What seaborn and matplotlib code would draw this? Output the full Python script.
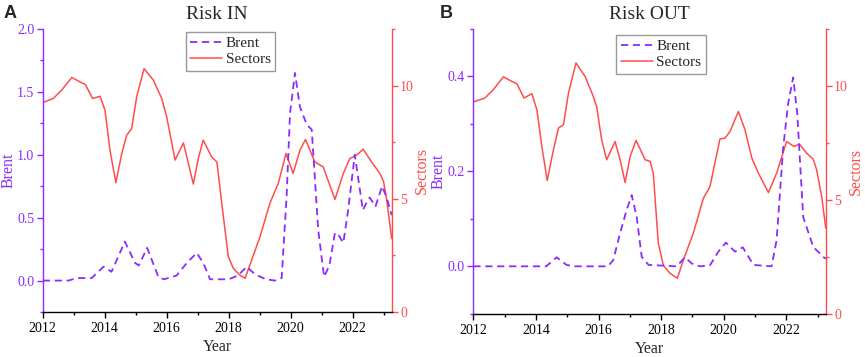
import matplotlib
matplotlib.use('Agg')
import pandas as pd
import matplotlib.pyplot as plt
import seaborn as sns
from matplotlib.ticker import MultipleLocator, FormatStrFormatter

# ---- data ----
# Panel A: Risk IN
a_brent_t = [2012.0, 2012.83, 2013.1, 2013.58, 2013.96, 2014.22, 2014.4, 2014.65, 2014.98, 2015.1,
             2015.37, 2015.73, 2015.91, 2016.32, 2016.65, 2016.97, 2017.18, 2017.4, 2018.0, 2018.3,
             2018.58, 2018.85, 2019.2, 2019.5, 2019.71, 2019.87, 2019.98, 2020.14, 2020.3, 2020.52,
             2020.68, 2020.89, 2021.08, 2021.25, 2021.43, 2021.55, 2021.7, 2021.85, 2022.07, 2022.2,
             2022.33, 2022.45, 2022.55, 2022.74, 2022.95, 2023.1, 2023.26]
a_brent_v = [0.0, 0.0, 0.02, 0.02, 0.11, 0.07, 0.17, 0.31, 0.14, 0.12,
             0.26, 0.03, 0.01, 0.04, 0.14, 0.22, 0.14, 0.01, 0.01, 0.04,
             0.11, 0.05, 0.01, 0.0, 0.02, 0.67, 1.33, 1.65, 1.38, 1.24,
             1.2, 0.4, 0.03, 0.12, 0.38, 0.36, 0.30, 0.55, 1.0, 0.78,
             0.56, 0.62, 0.66, 0.59, 0.75, 0.66, 0.52]
a_sec_t = [2012.0, 2012.34, 2012.61, 2012.94, 2013.26, 2013.37, 2013.61, 2013.85, 2014.01, 2014.17,
           2014.36, 2014.55, 2014.71, 2014.87, 2015.03, 2015.27, 2015.57, 2015.84, 2016.0, 2016.27,
           2016.54, 2016.7, 2016.86, 2017.02, 2017.18, 2017.45, 2017.62, 2017.83, 2017.99, 2018.15,
           2018.36, 2018.53, 2018.74, 2019.01, 2019.33, 2019.6, 2019.85, 2020.08, 2020.3, 2020.48,
           2020.78, 2021.05, 2021.43, 2021.7, 2021.91, 2022.13, 2022.34, 2022.61, 2022.88, 2023.0,
           2023.1, 2023.26]
a_sec_v = [9.25, 9.43, 9.8, 10.36, 10.12, 10.06, 9.43, 9.53, 8.91, 7.15,
           5.71, 7.0, 7.81, 8.1, 9.5, 10.75, 10.24, 9.43, 8.62, 6.71,
           7.47, 6.56, 5.65, 6.78, 7.59, 6.85, 6.63, 4.2, 2.44, 1.93,
           1.63, 1.49, 2.29, 3.32, 4.8, 5.68, 7.0, 6.12, 7.15, 7.62,
           6.63, 6.41, 4.97, 6.12, 6.78, 6.93, 7.19, 6.63, 6.12, 5.75,
           4.95, 3.25]

# Panel B: Risk OUT
b_brent_t = [2012.0, 2014.33, 2014.66, 2014.98, 2015.2, 2016.3, 2016.47, 2016.69, 2016.9, 2017.06,
             2017.22, 2017.38, 2017.6, 2018.5, 2018.76, 2018.98, 2019.24, 2019.56, 2019.83, 2020.07,
             2020.36, 2020.61, 2020.95, 2021.53, 2021.69, 2021.9, 2022.06, 2022.22, 2022.35, 2022.54,
             2022.86, 2023.18, 2023.26]
b_brent_v = [0.0, 0.0, 0.019, 0.003, 0.0, 0.0, 0.013, 0.07, 0.119, 0.15,
             0.104, 0.02, 0.003, 0.0, 0.019, 0.006, 0.0, 0.002, 0.031, 0.05,
             0.031, 0.04, 0.003, 0.0, 0.055, 0.25, 0.343, 0.398, 0.322, 0.104,
             0.041, 0.02, 0.016]
b_sec_t = [2012.0, 2012.37, 2012.64, 2012.96, 2013.23, 2013.39, 2013.62, 2013.87, 2014.03, 2014.19,
           2014.36, 2014.56, 2014.72, 2014.88, 2015.04, 2015.28, 2015.57, 2015.81, 2015.94, 2016.1,
           2016.26, 2016.53, 2016.69, 2016.85, 2017.01, 2017.2, 2017.49, 2017.65, 2017.75, 2017.91,
           2018.07, 2018.28, 2018.52, 2018.71, 2019.03, 2019.35, 2019.56, 2019.88, 2020.04, 2020.2,
           2020.47, 2020.68, 2020.9, 2021.11, 2021.43, 2021.69, 2022.01, 2022.25, 2022.42, 2022.65,
           2022.86, 2022.97, 2023.13, 2023.26]
b_sec_v = [9.3, 9.47, 9.84, 10.4, 10.2, 10.1, 9.47, 9.66, 8.96, 7.34,
           5.85, 7.2, 8.15, 8.3, 9.69, 11.01, 10.42, 9.62, 9.1, 7.64,
           6.76, 7.56, 6.76, 5.76, 6.9, 7.61, 6.76, 6.69, 6.17, 3.1,
           2.14, 1.78, 1.56, 2.36, 3.54, 5.07, 5.58, 7.67, 7.71, 8.0,
           8.88, 8.08, 6.83, 6.17, 5.32, 6.17, 7.56, 7.34, 7.45, 7.05,
           6.79, 6.32, 5.15, 3.76]

PURPLE = '#8B2BFF'
RED = '#FF4D4D'

sns.set_style('ticks')
plt.rcParams['font.family'] = ['Liberation Serif', 'DejaVu Serif']
plt.rcParams['xtick.direction'] = 'out'
plt.rcParams['ytick.direction'] = 'out'

fig = plt.figure(figsize=(8.65, 3.57), dpi=100)


def draw_panel(rect, title, letter, letter_x, bt, bv, st, sv, bylim, bmajor, bminor, leg_xy):
    ax = fig.add_axes(rect)
    ax2 = ax.twinx()
    ax.set_zorder(ax2.get_zorder() + 1)
    ax.patch.set_visible(False)

    sns.lineplot(x=bt, y=bv, ax=ax, color=PURPLE, linewidth=1.3, label='Brent')
    ax.lines[-1].set_linestyle((0, (4, 2.6)))
    sns.lineplot(x=st, y=sv, ax=ax2, color=RED, linewidth=1.1, label='Sectors')

    ax.set_xlim(2012, 2023.26)
    ax.set_ylim(*bylim)
    ax2.set_ylim(0, 12.5)

    ax.xaxis.set_major_locator(MultipleLocator(2))
    ax.xaxis.set_minor_locator(MultipleLocator(1))
    ax.yaxis.set_major_locator(MultipleLocator(bmajor))
    ax.yaxis.set_minor_locator(MultipleLocator(bminor))
    ax.yaxis.set_major_formatter(FormatStrFormatter('%.1f'))
    ax2.yaxis.set_major_locator(MultipleLocator(5))
    ax2.yaxis.set_minor_locator(MultipleLocator(2.5))

    for a in (ax, ax2):
        a.spines['top'].set_visible(False)
    ax.spines['right'].set_visible(False)
    ax2.spines['left'].set_visible(False)
    ax2.spines['bottom'].set_visible(False)
    ax.spines['left'].set_color(PURPLE)
    ax2.spines['right'].set_color(RED)
    ax.spines['bottom'].set_color('black')
    for s in (ax.spines['left'], ax.spines['bottom'], ax2.spines['right']):
        s.set_linewidth(1.0)

    ax.tick_params(axis='x', which='major', length=4, width=1, labelsize=10, colors='black', pad=3)
    ax.tick_params(axis='x', which='minor', length=2.5, width=1, colors='black')
    ax.tick_params(axis='y', which='major', length=4, width=1, labelsize=10, colors=PURPLE, pad=2)
    ax.tick_params(axis='y', which='minor', length=2.5, width=1, colors=PURPLE)
    ax2.tick_params(axis='y', which='major', length=4, width=1, labelsize=10, colors=RED, pad=2)
    ax2.tick_params(axis='y', which='minor', length=2.5, width=1, colors=RED)

    ax.set_xlabel('Year', fontsize=11.5, labelpad=3)
    ax.set_ylabel('Brent', fontsize=11.5, color=PURPLE, labelpad=0.5)
    ax2.set_ylabel('Sectors', fontsize=11.5, color=RED, labelpad=0)
    ax.set_title(title, fontsize=14, pad=7)

    handles = ax.get_lines()[:1] + ax2.get_lines()[:1]
    if ax.get_legend() is not None:
        ax.get_legend().remove()
    if ax2.get_legend() is not None:
        ax2.get_legend().remove()
    leg = ax.legend(handles, ['Brent', 'Sectors'], loc='upper left', bbox_to_anchor=leg_xy,
                    fontsize=11, frameon=True, fancybox=False, handlelength=2.1,
                    handletextpad=0.2, borderpad=0.3, labelspacing=0.15, borderaxespad=0)
    leg.get_frame().set_edgecolor('#808080')
    leg.get_frame().set_linewidth(1.0)

    fig.text(letter_x, 0.985, letter, fontsize=13, fontweight='bold',
             family=['Liberation Sans', 'DejaVu Sans'], va='top', ha='left')


draw_panel([0.0494, 0.126, 0.4034, 0.7928], 'Risk IN', 'A', 0.004,
           a_brent_t, a_brent_v, a_sec_t, a_sec_v, (-0.25, 2.0), 0.5, 0.25, (0.41, 0.99))
draw_panel([0.5472, 0.121, 0.4074, 0.7978], 'Risk OUT', 'B', 0.508,
           b_brent_t, b_brent_v, b_sec_t, b_sec_v, (-0.1, 0.5), 0.2, 0.1, (0.406, 0.98))

fig.savefig('out.png', dpi=100)
